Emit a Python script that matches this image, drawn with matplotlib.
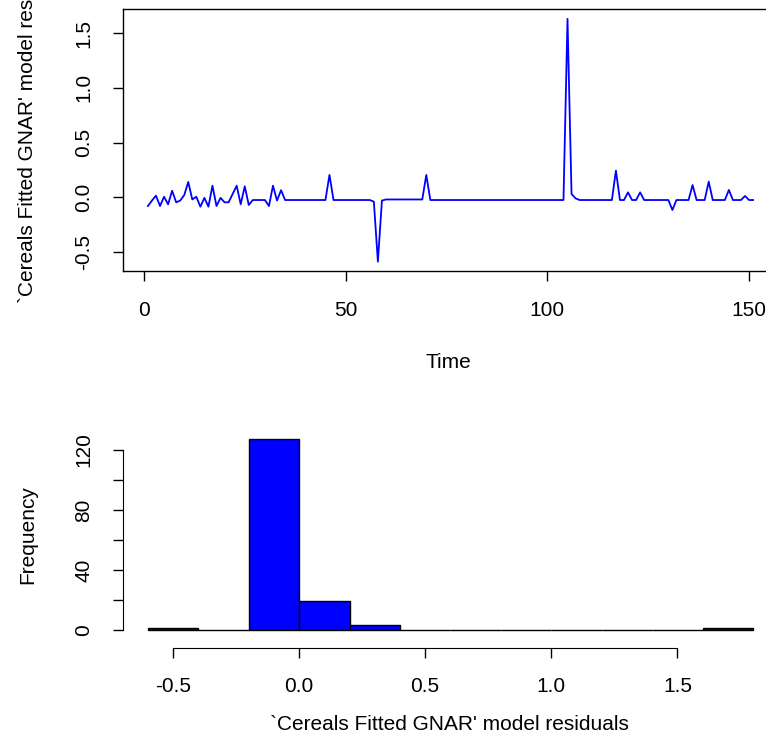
import matplotlib
matplotlib.use('Agg')
import matplotlib.pyplot as plt

plt.rcParams['font.family'] = ['Liberation Sans', 'DejaVu Sans']

# ---------------- data ----------------
time = list(range(1, 152))
resid = [
    -0.080, -0.030, 0.015, -0.080, 0.005, -0.064, 0.060, -0.046, -0.030, 0.020,
    0.140, -0.020, 0.005, -0.086, -0.005, -0.086, 0.106, -0.080, -0.005, -0.046,
    -0.046, 0.030, 0.106, -0.064, 0.100, -0.070, -0.025, -0.025, -0.025, -0.025,
    -0.080, 0.106, -0.030, 0.065, -0.025, -0.025, -0.025, -0.025, -0.025, -0.025,
    -0.025, -0.025, -0.025, -0.025, -0.025, 0.204, -0.025, -0.025, -0.025, -0.025,
    -0.025, -0.025, -0.025, -0.025, -0.025, -0.025, -0.040, -0.588, -0.030, -0.020,
    -0.020, -0.020, -0.020, -0.020, -0.020, -0.020, -0.020, -0.020, -0.020, 0.204,
    -0.025, -0.025, -0.025, -0.025, -0.025, -0.025, -0.025, -0.025, -0.025, -0.025,
    -0.025, -0.025, -0.025, -0.025, -0.025, -0.025, -0.025, -0.025, -0.025, -0.025,
    -0.025, -0.025, -0.025, -0.025, -0.025, -0.025, -0.025, -0.025, -0.025, -0.025,
    -0.025, -0.025, -0.025, -0.025, 1.630, 0.030, -0.010, -0.025, -0.025, -0.025,
    -0.025, -0.025, -0.025, -0.025, -0.025, -0.025, 0.243, -0.025, -0.025, 0.045,
    -0.025, -0.025, 0.045, -0.025, -0.025, -0.025, -0.025, -0.025, -0.025, -0.025,
    -0.116, -0.025, -0.025, -0.025, -0.025, 0.112, -0.025, -0.025, -0.025, 0.143,
    -0.025, -0.025, -0.025, -0.025, 0.067, -0.025, -0.025, -0.025, 0.012, -0.025,
    -0.025,
]
breaks = [-0.6, -0.4, -0.2, 0.0, 0.2, 0.4, 0.6, 0.8, 1.0, 1.2, 1.4, 1.6, 1.8]

top_xticks = [0, 50, 100, 150]
top_yticks = [-0.5, 0.0, 0.5, 1.0, 1.5]
hist_xticks = [-0.5, 0.0, 0.5, 1.0, 1.5]
hist_yticks = [0, 20, 40, 60, 80, 100, 120]
hist_ylabels = ['0', '', '40', '', '80', '', '120']

label_text = "`Cereals Fitted GNAR' model residuals"

# ---------------- layout helpers ----------------
W, H = 766, 740
fig = plt.figure(figsize=(W / 100, H / 100), dpi=100)


def rect(l, r, t, b):
    return [l / W, 1 - b / H, (r - l) / W, (b - t) / H]


def ftext(x, y, s, **kw):
    fig.text(x / W, 1 - y / H, s, ha='center', va='center', fontsize=FS, **kw)


FS = 15
BLUE = '#0000FF'

# ---------------- top: residual time series ----------------
ax1 = fig.add_axes(rect(122.5, 777.3, 9.1, 271.4))
ax1.plot(time, resid, color=BLUE, lw=1.3)
ax1.set_xlim(-5.3, 157)
ax1.set_ylim(-0.677, 1.719)
ax1.set_xticks(top_xticks)
ax1.set_xticklabels([str(v) for v in top_xticks])
ax1.set_yticks(top_yticks)
ax1.set_yticklabels([f'{v:.1f}' for v in top_yticks], rotation=90, va='center')
ax1.tick_params(direction='out', length=7, width=1, labelsize=FS, pad=14)
for s in ax1.spines.values():
    s.set_linewidth(1)
ftext(448, 362, 'Time')
ftext(28, 124, label_text, rotation=90)

# ---------------- bottom: histogram ----------------
ax2 = fig.add_axes(rect(122.5, 777.3, 379, 648))
ax2.hist(resid, bins=breaks, color=BLUE, edgecolor='black', linewidth=1)
ax2.set_xlim(-0.7, 1.896)
ax2.set_ylim(-12.0, 167.3)
for side in ['top', 'right']:
    ax2.spines[side].set_visible(False)
ax2.spines['left'].set_bounds(0, 120)
ax2.spines['bottom'].set_bounds(-0.5, 1.5)
ax2.set_xticks(hist_xticks)
ax2.set_xticklabels([f'{v:.1f}' for v in hist_xticks])
ax2.set_yticks(hist_yticks)
ax2.set_yticklabels(hist_ylabels, rotation=90, va='center')
ax2.tick_params(direction='out', length=7, width=1, labelsize=FS, pad=14)
ftext(449, 724, label_text)
ftext(28, 535, 'Frequency', rotation=90)

fig.savefig('out.png', dpi=100)
